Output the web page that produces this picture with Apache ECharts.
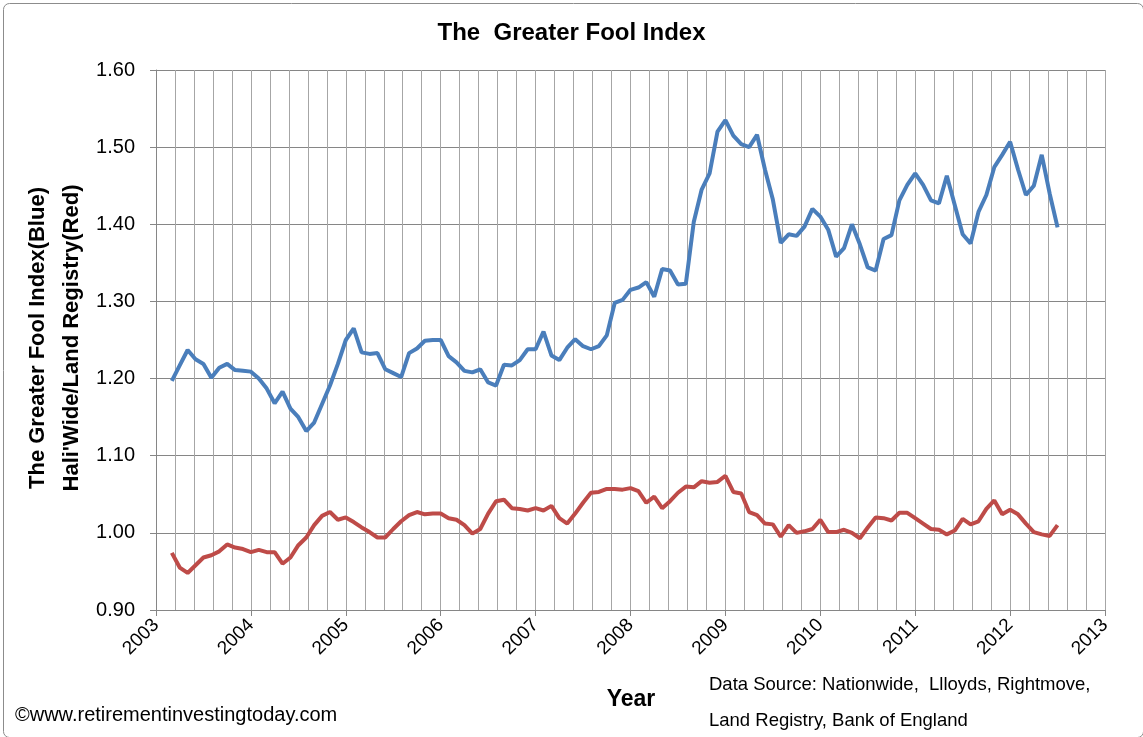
<!DOCTYPE html>
<html><head><meta charset="utf-8">
<script src="https://cdn.jsdelivr.net/npm/echarts@6/dist/echarts.min.js"></script>
<style>html,body{margin:0;padding:0;background:#fff}#c{width:1143px;height:737px}</style>
</head><body><div id="c"></div>
<script>
// Monthly observations, March 2003 .. July 2012
const startYear = 2003, startMonth = 3;
const blueValues = [
1.197,1.217,1.237,1.225,1.219,1.201,1.214,1.219,1.211,1.210,1.209,1.200,
1.187,1.168,1.183,1.161,1.150,1.132,1.143,1.167,1.191,1.219,1.250,1.265,
1.234,1.232,1.233,1.212,1.207,1.202,1.233,1.239,1.249,1.250,1.250,1.229,
1.221,1.210,1.208,1.212,1.195,1.191,1.218,1.217,1.224,1.238,1.238,1.261,
1.230,1.224,1.240,1.251,1.242,1.238,1.242,1.256,1.298,1.302,1.315,1.318,
1.325,1.306,1.342,1.340,1.322,1.323,1.403,1.445,1.466,1.520,1.535,1.515,
1.504,1.500,1.516,1.471,1.432,1.376,1.387,1.385,1.397,1.420,1.410,1.393,
1.358,1.369,1.400,1.374,1.344,1.340,1.381,1.386,1.431,1.451,1.466,1.451,
1.431,1.427,1.463,1.425,1.387,1.375,1.416,1.438,1.474,1.490,1.507,1.471,
1.438,1.450,1.490,1.440,1.396
];
const redValues = [
0.974,0.955,0.948,0.958,0.968,0.971,0.976,0.985,0.981,0.979,0.975,0.978,
0.975,0.975,0.960,0.968,0.984,0.994,1.010,1.022,1.027,1.017,1.020,1.014,
1.007,1.001,0.994,0.994,1.005,1.015,1.023,1.027,1.024,1.025,1.025,1.019,
1.017,1.010,0.999,1.005,1.025,1.041,1.043,1.032,1.031,1.029,1.032,1.029,
1.035,1.019,1.012,1.025,1.039,1.052,1.053,1.057,1.057,1.056,1.058,1.054,
1.039,1.047,1.032,1.041,1.052,1.060,1.059,1.067,1.065,1.066,1.074,1.053,
1.051,1.027,1.023,1.012,1.011,0.995,1.010,1.000,1.002,1.005,1.017,1.001,
1.001,1.004,1.000,0.993,1.007,1.020,1.019,1.016,1.026,1.026,1.019,1.012,
1.005,1.004,0.998,1.003,1.018,1.011,1.015,1.031,1.042,1.024,1.030,1.024,
1.012,1.001,0.998,0.996,1.010
];
const yTicks = ['0.90','1.00','1.10','1.20','1.30','1.40','1.50','1.60'];
const xYears = [2003,2004,2005,2006,2007,2008,2009,2010,2011,2012,2013];

// decimal-year position of each monthly observation
const times = blueValues.map((_, i) => startYear + (startMonth - 1 + i) / 12);
const blueData = blueValues.map((v, i) => [times[i], v]);
const redData = redValues.map((v, i) => [times[i], v]);

const font = "'Liberation Sans', Arial, sans-serif";
const chart = echarts.init(document.getElementById('c'));
chart.setOption({
  animation: false,
  backgroundColor: '#fff',
  title: {
    text: 'The  Greater Fool Index', left: 'center', top: 16,
    textStyle: { fontFamily: font, fontSize: 24, fontWeight: 'bold', color: '#000' }
  },
  grid: { left: 156, right: 38, top: 70, bottom: 127 },
  xAxis: {
    type: 'value', min: xYears[0], max: xYears[xYears.length - 1], interval: 1,
    axisLine: { show: true, lineStyle: { color: '#868686', width: 1 } },
    axisTick: { show: true, length: 6, lineStyle: { color: '#868686' } },
    minorTick: { show: false, splitNumber: 5 },
    splitLine: { show: true, lineStyle: { color: '#a6a6a6', width: 1 } },
    minorSplitLine: { show: true, lineStyle: { color: '#a6a6a6', width: 1 } },
    axisLabel: { rotate: 45, margin: 12, color: '#000', fontFamily: font, fontSize: 19,
      formatter: v => String(Math.round(v)) }
  },
  yAxis: {
    type: 'value', min: 0.9, max: 1.6, interval: 0.1,
    axisLine: { show: true, lineStyle: { color: '#868686', width: 1 } },
    axisTick: { show: true, length: 6, lineStyle: { color: '#868686' } },
    splitLine: { show: true, lineStyle: { color: '#868686', width: 1 } },
    axisLabel: { margin: 21, color: '#000', fontFamily: font, fontSize: 20,
      formatter: v => yTicks[Math.round((v - 0.9) * 10)] }
  },
  series: [
    { type: 'line', data: blueData, symbol: 'none', smooth: false,
      lineStyle: { color: '#4a7ebb', width: 4 }, z: 3 },
    { type: 'line', data: redData, symbol: 'none', smooth: false,
      lineStyle: { color: '#be4b48', width: 4 }, z: 3 }
  ],
  graphic: [
    { type: 'rect', left: 1, top: 1, shape: { width: 1140, height: 734, r: 6 },
      style: { fill: 'none', stroke: '#8c8c8c', lineWidth: 1 }, silent: true },
    { type: 'text', x: 38, y: 338, rotation: Math.PI / 2, style: {
      text: 'The Greater Fool Index(Blue)', fontFamily: font, fontSize: 22, fontWeight: 'bold',
      fill: '#000', align: 'center', verticalAlign: 'middle' } },
    { type: 'text', x: 72, y: 338, rotation: Math.PI / 2, style: {
      text: "Hali'Wide/Land Registry(Red)", fontFamily: font, fontSize: 22, fontWeight: 'bold',
      fill: '#000', align: 'center', verticalAlign: 'middle' } },
    { type: 'text', x: 631, y: 700, style: {
      text: 'Year', fontFamily: font, fontSize: 23, fontWeight: 'bold', fill: '#000',
      align: 'center', verticalAlign: 'middle' } },
    { type: 'text', x: 709, y: 685, style: {
      text: 'Data Source: Nationwide,  Llloyds, Rightmove,', fontFamily: font, fontSize: 18.5,
      fill: '#000', align: 'left', verticalAlign: 'middle' } },
    { type: 'text', x: 709, y: 721, style: {
      text: 'Land Registry, Bank of England', fontFamily: font, fontSize: 18.5,
      fill: '#000', align: 'left', verticalAlign: 'middle' } },
    { type: 'text', x: 15, y: 715, style: {
      text: '©www.retirementinvestingtoday.com', fontFamily: font, fontSize: 20,
      fill: '#000', align: 'left', verticalAlign: 'middle' } }
  ]
});
</script></body></html>
